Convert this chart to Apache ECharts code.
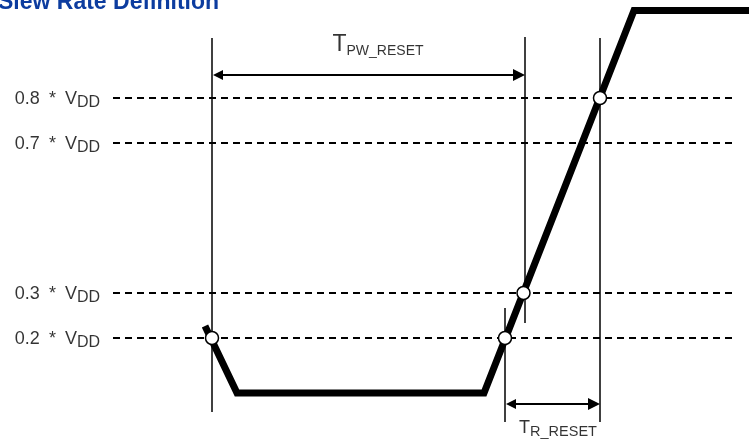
<!DOCTYPE html>
<html><head><meta charset="utf-8">
<script src="https://cdn.jsdelivr.net/npm/echarts@6/dist/echarts.min.js"></script>
<style>html,body{margin:0;padding:0;background:#fff}#c{width:749px;height:445px}</style>
</head><body><div id="c"></div>
<script>
// Schematic coordinates: t = horizontal (time), v = vertical level position (0 at top)
const titleText = 'Slew Rate Definition';
const levelNames = ['0.8', '0.7', '0.3', '0.2'];
const levelPos = [98, 143, 293, 338];
const levelStart = 113;
const levelEnd = 732;
const waveT = [205, 237, 484, 634, 760];
const waveV = [326, 393, 393, 10.5, 10.5];
const crossT = [212, 505, 523.5, 600];
const crossV = [338, 338, 293, 98];
const markerT = [212, 525, 505, 600];
const markerTop = [38, 37, 308, 38];
const markerBottom = [412, 323, 422, 422];
const spanNames = ['PW_RESET', 'R_RESET'];
const spanFrom = [212, 505];
const spanTo = [525, 600];
const spanV = [75, 404];
const spanLabelT = [378, 558];
const spanLabelV = [58, 439];

const FONT = 'Liberation Sans, Arial, sans-serif';
const chart = echarts.init(document.getElementById('c'), null, {renderer: 'canvas'});
const arrowLen = 12;

const option = {
  animation: false,
  backgroundColor: '#fff',
  title: {
    text: titleText, left: -7, top: -14,
    textStyle: {fontFamily: FONT, fontSize: 23, fontWeight: 'bold', color: '#0c3c9f'}
  },
  grid: {left: 0, right: 0, top: 0, bottom: 0, containLabel: false},
  xAxis: {type: 'value', min: 0, max: 749, show: false},
  yAxis: {type: 'value', min: 0, max: 445, inverse: true, show: false},
  series: [
    {
      type: 'lines', coordinateSystem: 'cartesian2d', silent: true, z: 1,
      lineStyle: {color: '#000', width: 1.8, type: [7, 5], opacity: 1},
      symbol: 'none',
      data: levelPos.map(v => ({coords: [[levelStart, v], [levelEnd, v]]}))
    },
    {
      type: 'scatter', symbolSize: 0, silent: true, z: 3,
      data: levelPos.map((v, i) => ({value: [levelStart, v], name: levelNames[i]})),
      label: {
        show: true, position: 'left', distance: 13, offset: [0, 2],
        formatter: p => '{a|' + p.name + ' }{b|*}{a| V}{s|DD}',
        rich: {
          a: {fontFamily: FONT, fontSize: 18, color: '#000', lineHeight: 22, verticalAlign: 'bottom', padding: [0, 0, 3, 0]},
          b: {fontFamily: FONT, fontSize: 18, color: '#000', lineHeight: 22, verticalAlign: 'bottom', padding: [0, 4, 3, 4]},
          s: {fontFamily: FONT, fontSize: 16, color: '#000', lineHeight: 22, verticalAlign: 'bottom'}
        }
      }
    },
    {
      type: 'lines', coordinateSystem: 'cartesian2d', silent: true, z: 2,
      lineStyle: {color: '#000', width: 1.5, opacity: 1},
      symbol: 'none',
      data: markerT.map((t, i) => ({coords: [[t, markerTop[i]], [t, markerBottom[i]]]}))
    },
    {
      type: 'line', silent: true, z: 5, symbol: 'none',
      lineStyle: {color: '#000', width: 7, join: 'miter', cap: 'butt'},
      data: waveT.map((t, i) => [t, waveV[i]])
    },
    {
      type: 'scatter', silent: true, z: 6, symbol: 'circle', symbolSize: 13,
      itemStyle: {color: '#fff', borderColor: '#000', borderWidth: 1.5, opacity: 1},
      data: crossT.map((t, i) => [t, crossV[i]])
    },
    {
      type: 'lines', coordinateSystem: 'cartesian2d', silent: true, z: 4,
      lineStyle: {color: '#000', width: 2, opacity: 1},
      symbol: ['triangle', 'triangle'], symbolSize: [10, arrowLen],
      data: spanFrom.map((f, i) => ({coords: [[f + arrowLen / 2, spanV[i]], [spanTo[i] - arrowLen / 2, spanV[i]]]}))
    },
    {
      type: 'scatter', symbolSize: 0, silent: true, z: 3,
      data: spanNames.map((n, i) => ({value: [spanLabelT[i], spanLabelV[i]], name: n})),
      label: {
        show: true, position: [0, 0], align: 'center', verticalAlign: 'bottom',
        formatter: p => (p.dataIndex === 0 ? '{t|T}{s|' : '{t2|T}{s2|') + p.name + '}',
        rich: {
          t: {fontFamily: FONT, fontSize: 23, color: '#000', lineHeight: 26, verticalAlign: 'bottom', padding: [0, 0, 2, 0]},
          s: {fontFamily: FONT, fontSize: 14, color: '#000', lineHeight: 26, verticalAlign: 'bottom'},
          t2: {fontFamily: FONT, fontSize: 18, color: '#000', lineHeight: 22, verticalAlign: 'bottom', padding: [0, 0, 2, 0]},
          s2: {fontFamily: FONT, fontSize: 14.5, color: '#000', lineHeight: 22, verticalAlign: 'bottom'}
        }
      }
    }
  ]
};
chart.setOption(option);
</script>
</body></html>
